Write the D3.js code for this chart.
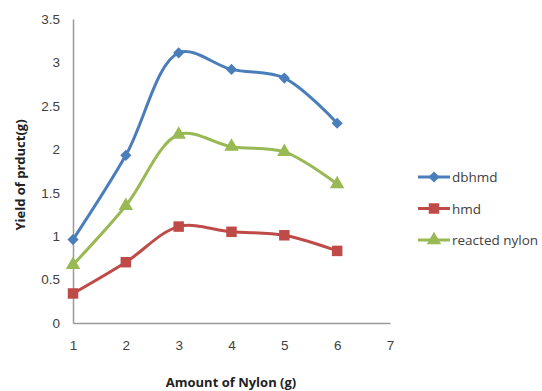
<!DOCTYPE html>
<html>
<head>
<meta charset="utf-8">
<script src="https://cdn.jsdelivr.net/npm/d3@7"></script>
<style>
  html, body { margin: 0; padding: 0; background: #fff; }
  svg { display: block; font-family: "Open Sans", "Liberation Sans", sans-serif; }
</style>
</head>
<body>
<svg id="chart" width="542" height="391"></svg>
<script>
// Amount of nylon used (g)
const amounts = [1, 2, 3, 4, 5, 6];
// Yield of each product (g)
const dbhmd = [0.96, 1.93, 3.11, 2.92, 2.82, 2.30];
const hmd = [0.34, 0.70, 1.11, 1.05, 1.01, 0.83];
const reactedNylon = [0.67, 1.35, 2.17, 2.03, 1.97, 1.60];
const seriesNames = ["dbhmd", "hmd", "reacted nylon"];
const xTicks = [1, 2, 3, 4, 5, 6, 7];
const yTicks = [0, 0.5, 1, 1.5, 2, 2.5, 3, 3.5];

// Diamond markers are squares turned 45 degrees
const series = [
  { name: seriesNames[0], values: dbhmd, color: "#4A7EBB", marker: d3.symbolSquare, size: 62, rotate: 45 },
  { name: seriesNames[1], values: hmd, color: "#BE4B48", marker: d3.symbolSquare, size: 110, rotate: 0 },
  { name: seriesNames[2], values: reactedNylon, color: "#98B954", marker: d3.symbolTriangle, size: 90, rotate: 0 }
];

const svg = d3.select("#chart");
const x = d3.scaleLinear().domain([1, 7]).range([73, 390]);
const y = d3.scaleLinear().domain([0, 3.5]).range([323, 19]);

// Axes
const yAxis = svg.append("g").attr("transform", `translate(${x(1)},0)`)
  .call(d3.axisLeft(y).tickValues(yTicks).tickSize(0).tickPadding(13).tickFormat(d3.format("")));
const xAxis = svg.append("g").attr("transform", `translate(0,${y(0)})`)
  .call(d3.axisBottom(x).tickValues(xTicks).tickSize(0).tickPadding(17).tickFormat(d3.format("d")));
[xAxis, yAxis].forEach(a => {
  a.select(".domain").attr("stroke", "#9a9a9a").attr("stroke-width", 1.5);
  a.selectAll("text").attr("fill", "#404040").style("font-size", "13.5px");
});

// Axis titles
svg.append("text")
  .attr("x", 231).attr("y", 387)
  .attr("text-anchor", "middle")
  .style("font-size", "13px").style("font-weight", "bold").attr("fill", "#222")
  .text("Amount of Nylon (g)");
svg.append("text")
  .attr("transform", `translate(25,175) rotate(-90)`)
  .attr("text-anchor", "middle")
  .style("font-size", "13px").style("font-weight", "bold").attr("fill", "#222")
  .text("Yield of prduct(g)");

// Smoothed lines with markers
const line = d3.line()
  .x((d, i) => x(amounts[i]))
  .y(d => y(d))
  .curve(d3.curveCatmullRom.alpha(0.5));

series.forEach(s => {
  svg.append("path")
    .datum(s.values)
    .attr("fill", "none")
    .attr("stroke", s.color)
    .attr("stroke-width", 3)
    .attr("d", line);
  svg.selectAll(null)
    .data(s.values)
    .enter().append("path")
    .attr("transform", (d, i) => `translate(${x(amounts[i])},${y(d)}) rotate(${s.rotate})`)
    .attr("d", d3.symbol().type(s.marker).size(s.size))
    .attr("fill", s.color);
});

// Legend
const legend = svg.append("g");
series.forEach((s, i) => {
  const ly = 177 + i * 31.5;
  legend.append("line")
    .attr("x1", 418).attr("x2", 450).attr("y1", ly).attr("y2", ly)
    .attr("stroke", s.color).attr("stroke-width", 3);
  legend.append("path")
    .attr("transform", `translate(434,${ly}) rotate(${s.rotate})`)
    .attr("d", d3.symbol().type(s.marker).size(s.size))
    .attr("fill", s.color);
  legend.append("text")
    .attr("x", 452).attr("y", ly + 5)
    .style("font-size", "13.5px").attr("fill", "#404040")
    .text(s.name);
});
</script>
</body>
</html>
